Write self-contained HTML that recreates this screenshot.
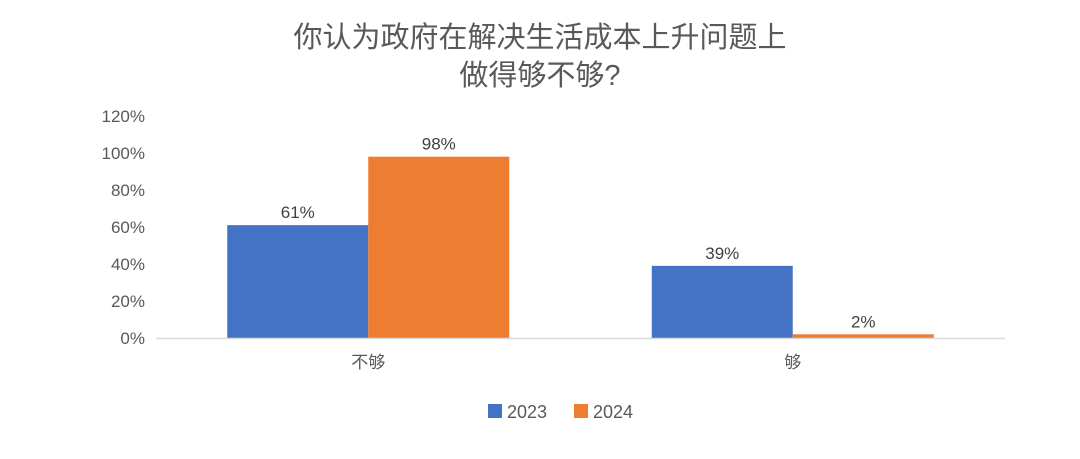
<!DOCTYPE html>
<html><head><meta charset="utf-8"><style>
body{margin:0;background:#fff;}
svg text{font-family:"Liberation Sans","Noto Sans CJK SC",sans-serif;fill:#595959;}
</style></head><body>
<svg id="chart" width="1080" height="454" viewBox="0 0 1080 454" xmlns="http://www.w3.org/2000/svg">
<rect width="1080" height="454" fill="#fff"/>
<text x="540" y="47" text-anchor="middle" font-size="29">你认为政府在解决生活成本上升问题上</text>
<text x="540" y="85" text-anchor="middle" font-size="29">做得够不够?</text>
<g id="yaxis"></g>
<g id="bars"></g>
<g id="xaxis"></g>
<g>
<rect x="488" y="404" width="14" height="14" fill="#4472C4"/>
<text x="507" y="418" font-size="18">2023</text>
<rect x="574" y="404" width="14" height="14" fill="#ED7D31"/>
<text x="593" y="418" font-size="18">2024</text>
</g>
</svg>
<script>
const categories=["不够","够"];
const series2023=[61,39];
const series2024=[98,2];
const yTicks=[0,20,40,60,80,100,120];
const seriesNames=["2023","2024"];
const NS="http://www.w3.org/2000/svg";
const x0=156,x1=1005,yBase=338,yPerUnit=1.85;
const y=v=>yBase-v*yPerUnit;
const catW=(x1-x0)/categories.length;
const barW=141;
function el(tag,attrs,parent){const e=document.createElementNS(NS,tag);for(const k in attrs)e.setAttribute(k,attrs[k]);parent.appendChild(e);return e;}
const yg=document.getElementById('yaxis');
yTicks.forEach(t=>{
 const tx=el('text',{x:145,y:y(t)+6,'text-anchor':'end','font-size':17},yg);
 
 
 tx.textContent=t+'%';
});
const xg=document.getElementById('xaxis');
const ax=el('line',{x1:x0,x2:x1,y1:yBase+0.5,y2:yBase+0.5,stroke:'#D9D9D9','stroke-width':1.5},xg);


const bg=document.getElementById('bars');
const allSeries=[series2023,series2024];
const colors=["#4472C4","#ED7D31"];
categories.forEach((c,i)=>{
 const cx=x0+catW*(i+0.5);
 const lbl=el('text',{x:cx,y:yBase+30,'text-anchor':'middle','font-size':17},xg);
 
 
 lbl.textContent=c;
 allSeries.forEach((s,j)=>{
  const bx=cx-barW+j*barW;
  const r=el('rect',{x:bx,y:y(s[i]),width:barW,height:yBase-y(s[i]),fill:colors[j]},bg);
  
  
  const v=el('text',{x:bx+barW/2,y:y(s[i])-7,'text-anchor':'middle','font-size':17,style:'fill:#404040'},bg);
  
  
  v.textContent=s[i]+'%';
 });
});
</script>
</body></html>
